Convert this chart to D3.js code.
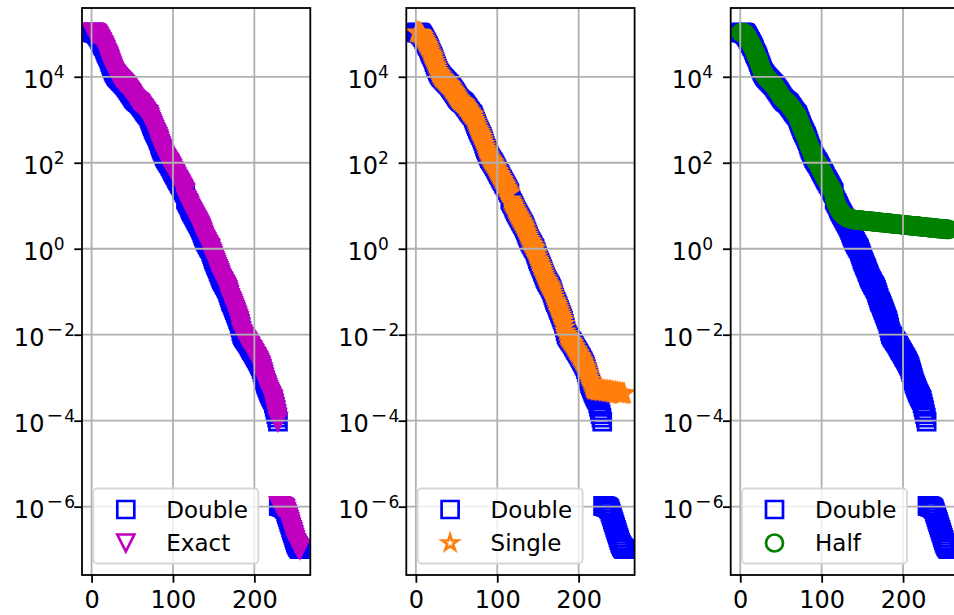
<!DOCTYPE html>
<html>
<head>
<meta charset="utf-8">
<script src="https://cdn.jsdelivr.net/npm/d3@7"></script>
<style>
  body { margin: 0; background: #fff; }
  svg { display: block; font-family: "DejaVu Sans", sans-serif; }
</style>
</head>
<body>
<svg id="chart" width="954" height="615"></svg>
<script>
// log10 of each value; point k sits at x = k + 1
var doubleExp = [
   5.03,  5.03,  5.03,  5.02,  5.02,  5.00,  4.98,  4.95,  4.92,  4.88,  4.85,  4.81,  4.78,  4.74,  4.71,  4.67,
   4.62,  4.57,  4.53,  4.49,  4.45,  4.40,  4.34,  4.29,  4.24,  4.19,  4.14,  4.10,  4.07,  4.04,  4.01,  3.99,
   3.97,  3.95,  3.93,  3.91,  3.89,  3.87,  3.85,  3.83,  3.81,  3.79,  3.76,  3.73,  3.70,  3.68,  3.65,  3.62,
   3.59,  3.56,  3.53,  3.50,  3.48,  3.46,  3.44,  3.43,  3.41,  3.40,  3.38,  3.36,  3.33,  3.30,  3.28,  3.25,
   3.22,  3.19,  3.17,  3.14,  3.12,  3.10,  3.05,  3.00,  2.95,  2.90,  2.85,  2.80,  2.76,  2.72,  2.68,  2.64,
   2.60,  2.55,  2.50,  2.44,  2.38,  2.33,  2.29,  2.24,  2.19,  2.15,  2.11,  2.08,  2.05,  2.02,  1.99,  1.96,
   1.92,  1.89,  1.85,  1.81,  1.78,  1.74,  1.71,  1.67,  1.63,  1.60,  1.57,  1.53,  1.50,  1.47,  1.43,  1.40,
   1.36,  1.32,  1.29,  1.15,  1.11,  1.07,  1.04,  1.00,  0.95,  0.91,  0.87,  0.84,  0.80,  0.77,  0.73,  0.70,
   0.66,  0.63,  0.59,  0.56,  0.52,  0.48,  0.43,  0.38,  0.33,  0.28,  0.23,  0.19,  0.16,  0.12,  0.09,  0.05,
   0.02, -0.01, -0.07, -0.12, -0.18, -0.24, -0.29, -0.33, -0.38, -0.42, -0.47, -0.52, -0.57, -0.62, -0.67, -0.71,
  -0.75, -0.78, -0.82, -0.85, -0.88, -0.92, -0.96, -1.02, -1.08, -1.14, -1.20, -1.24, -1.28, -1.33, -1.38, -1.43,
  -1.48, -1.53, -1.58, -1.63, -1.68, -1.75, -1.83, -1.92, -1.98, -2.02, -2.05, -2.08, -2.11, -2.14, -2.16, -2.19,
  -2.22, -2.26, -2.29, -2.33, -2.36, -2.39, -2.42, -2.45, -2.49, -2.52, -2.55, -2.59, -2.62, -2.66, -2.70, -2.74,
  -2.80, -2.87, -2.93, -3.00, -3.07, -3.13, -3.18, -3.23, -3.28, -3.33, -3.37, -3.41, -3.45, -3.49, -3.52, -3.60,
  -3.68, -3.76, -3.85, -3.93, -4.02, -5.98, -5.98, -5.99, -6.00, -6.00, -6.01, -6.02, -6.04, -6.06, -6.12, -6.18,
  -6.24, -6.30, -6.36, -6.42, -6.48, -6.54, -6.60, -6.66, -6.72, -6.78, -6.84, -6.88, -6.92, -6.95, -6.97, -6.99
];

// exact lies on top of double in the picture
var exactExp = doubleExp.slice();

// single follows double up to point 208, then levels off
var singleTailExp = [
  -2.78, -2.83, -2.88, -2.93, -2.99, -3.05, -3.11, -3.17, -3.22, -3.25, -3.27, -3.28, -3.27, -3.29, -3.28, -3.30,
  -3.29, -3.31, -3.28, -3.30, -3.32, -3.29, -3.31, -3.30, -3.33, -3.30, -3.32, -3.31, -3.34, -3.31, -3.33, -3.32,
  -3.35, -3.33, -3.34, -3.36, -3.33, -3.35, -3.37, -3.34, -3.36, -3.38, -3.35, -3.37, -3.39, -3.36, -3.38, -3.37
];
var singleExp = doubleExp.slice(0, 208).concat(singleTailExp);

// half follows double up to point 116, then stalls around 3-5
var halfTailExp = [
   1.11,  1.06,  1.01,  0.97,  0.93,  0.90,  0.87,  0.84,  0.82,  0.80,  0.78,  0.77,  0.75,  0.74,  0.73,  0.72,
   0.71,  0.71,  0.70,  0.70,  0.69,  0.69,  0.68,  0.68,  0.68,
   0.67,  0.67,  0.67,  0.67,  0.67,  0.66,  0.66,  0.66,  0.66,  0.66,  0.65,  0.65,  0.65,  0.65,  0.65,
   0.64,  0.64,  0.64,  0.64,  0.64,  0.63,  0.63,  0.63,  0.63,  0.63,  0.62,  0.62,  0.62,  0.62,  0.62,
   0.61,  0.61,  0.61,  0.61,  0.61,  0.60,  0.60,  0.60,  0.60,  0.60,  0.59,  0.59,  0.59,  0.59,  0.59,
   0.58,  0.58,  0.58,  0.58,  0.58,  0.57,  0.57,  0.57,  0.57,  0.57,  0.56,  0.56,  0.56,  0.56,  0.56,
   0.55,  0.55,  0.55,  0.55,  0.55,  0.54,  0.54,  0.54,  0.54,  0.54,  0.53,  0.53,  0.53,  0.53,  0.53,
   0.52,  0.52,  0.52,  0.52,  0.52,  0.51,  0.51,  0.51,  0.51,  0.51,  0.50,  0.50,  0.50,  0.50,  0.50,
   0.49,  0.49,  0.49,  0.49,  0.49,  0.48,  0.48,  0.48,  0.48,  0.48,  0.47,  0.47,  0.47,  0.47,  0.47,
   0.46,  0.46,  0.46,  0.46,  0.46,  0.45,  0.45,  0.45,  0.45,  0.45
];
var halfExp = doubleExp.slice(0, 116).concat(halfTailExp);

var xTicks = [0, 100, 200];
var yTickExps = [4, 2, 0, -2, -4, -6];
var seriesNames = [["Double", "Exact"], ["Double", "Single"], ["Double", "Half"]];

var panels = [
  [{exps: doubleExp, shape: "square", color: "#0000ff"}, {exps: exactExp, shape: "triangleDown", color: "#bf00bf"}],
  [{exps: doubleExp, shape: "square", color: "#0000ff"}, {exps: singleExp, shape: "star", color: "#ff7f0e"}],
  [{exps: doubleExp, shape: "square", color: "#0000ff"}, {exps: halfExp, shape: "circle", color: "#008000"}]
];

var plotTop = 8, plotBottom = 575, plotWidth = 228.3;
var panelLefts = [82, 406.3, 730.7];
var tickFont = 24, supFont = 17, legendFont = 23;
var tickLen = 7.7, tickPad = 7.7;
var markerR = 8.5, markerStroke = 2.7;

// matplotlib-like marker shapes, size = half width
var shapes = {
	square: { draw: function(ctx, r) { ctx.rect(-r, -r, 2 * r, 2 * r); } },
	triangleDown: { draw: function(ctx, r) {
		ctx.moveTo(0, r); ctx.lineTo(-r, -r); ctx.lineTo(r, -r); ctx.closePath();
	} },
	star: { draw: function(ctx, r) {
		r = r * 0.95;
		for (var k = 0; k < 10; k++) {
			var a = Math.PI * k / 5, rr = (k % 2) ? r * 0.381966 : r;
			if (k === 0) ctx.moveTo(rr * Math.sin(a), -rr * Math.cos(a));
			else ctx.lineTo(rr * Math.sin(a), -rr * Math.cos(a));
		}
		ctx.closePath();
	} },
	circle: { draw: function(ctx, r) { ctx.moveTo(r, 0); ctx.arc(0, 0, r, 0, 2 * Math.PI); } }
};
function markerPath(shape) {
	return d3.symbol().type(shapes[shape]).size(markerR)();
}

var svg = d3.select("#chart");
var defs = svg.append("defs");

var y = d3.scaleLog()
	.domain([Math.pow(10, -7.59), Math.pow(10, 5.60)])
	.range([plotBottom, plotTop]);

panels.forEach(function(series, i) {
	var left = panelLefts[i];
	var x = d3.scaleLinear().domain([-11.75, 268.75]).range([left, left + plotWidth]);
	var g = svg.append("g");

	defs.append("clipPath").attr("id", "clip" + i)
		.append("rect")
		.attr("x", left).attr("y", plotTop)
		.attr("width", plotWidth).attr("height", plotBottom - plotTop);

	// scatter markers
	var marks = g.append("g").attr("clip-path", "url(#clip" + i + ")");
	series.forEach(function(s) {
		var d = markerPath(s.shape);
		marks.append("g").selectAll("path")
			.data(s.exps)
			.enter().append("path")
			.attr("d", d)
			.attr("transform", function(e, k) { return "translate(" + x(k + 1) + "," + y(Math.pow(10, e)) + ")"; })
			.attr("fill", "none")
			.attr("stroke", s.color)
			.attr("stroke-width", markerStroke)
			.attr("stroke-linejoin", "miter");
	});

	// grid (drawn over the markers, like scatter in matplotlib)
	var grid = g.append("g").attr("stroke", "#b0b0b0").attr("stroke-width", 1.8);
	grid.selectAll("line.v").data(xTicks).enter().append("line")
		.attr("x1", function(d) { return x(d); }).attr("x2", function(d) { return x(d); })
		.attr("y1", plotTop).attr("y2", plotBottom);
	grid.selectAll("line.h").data(yTickExps).enter().append("line")
		.attr("x1", left).attr("x2", left + plotWidth)
		.attr("y1", function(d) { return y(Math.pow(10, d)); })
		.attr("y2", function(d) { return y(Math.pow(10, d)); });

	// axes
	var xAxis = g.append("g")
		.attr("transform", "translate(0," + plotBottom + ")")
		.call(d3.axisBottom(x).tickValues(xTicks).tickSize(tickLen).tickPadding(tickPad).tickSizeOuter(0));
	var yAxis = g.append("g")
		.attr("transform", "translate(" + left + ",0)")
		.call(d3.axisLeft(y).tickValues(yTickExps.map(function(e) { return Math.pow(10, e); }))
			.tickSize(tickLen).tickPadding(tickPad).tickSizeOuter(0).tickFormat(function() { return ""; }));
	[xAxis, yAxis].forEach(function(ax) {
		ax.select(".domain").remove();
		ax.selectAll(".tick line").attr("stroke", "#000").attr("stroke-width", 1.8);
		ax.selectAll(".tick text").attr("fill", "#000").attr("font-size", tickFont)
			.attr("font-family", "DejaVu Sans");
	});
	xAxis.selectAll(".tick text").attr("dy", null).attr("y", 33);

	// y labels as 10 with superscript exponent
	yAxis.selectAll(".tick text").each(function(v) {
		var e = Math.round(Math.log10(v));
		var t = d3.select(this).attr("dy", null).attr("y", 10.5)
			.attr("x", e < 0 ? -7 : -17.5);
		t.text("");
		t.append("tspan").text("10");
		if (e < 0) {
			t.append("tspan").attr("dx", 2).attr("dy", -10).attr("font-size", 20).text("\u2212");
			t.append("tspan").attr("dx", 1).attr("font-size", supFont).text(String(-e));
		} else {
			t.append("tspan").attr("dy", -10).attr("font-size", supFont).text(String(e));
		}
	});

	// spines
	g.append("rect")
		.attr("x", left).attr("y", plotTop)
		.attr("width", plotWidth).attr("height", plotBottom - plotTop)
		.attr("fill", "none").attr("stroke", "#000").attr("stroke-width", 1.8);

	// legend
	var lg = g.append("g").attr("transform", "translate(" + (left + 11.3) + "," + 488.5 + ")");
	lg.append("rect")
		.attr("width", 165).attr("height", 75).attr("rx", 4)
		.attr("fill", "#fff").attr("fill-opacity", 0.8)
		.attr("stroke", "#d6d6d6").attr("stroke-width", 1.8);
	series.forEach(function(s, k) {
		var cy = 21 + k * 33.5;
		lg.append("path")
			.attr("d", markerPath(s.shape))
			.attr("transform", "translate(32.5," + cy + ")")
			.attr("fill", "none").attr("stroke", s.color)
			.attr("stroke-width", markerStroke);
		lg.append("text")
			.attr("x", 73).attr("y", cy + 8)
			.attr("font-size", legendFont)
			.text(seriesNames[i][k]);
	});
});
</script>
</body>
</html>
